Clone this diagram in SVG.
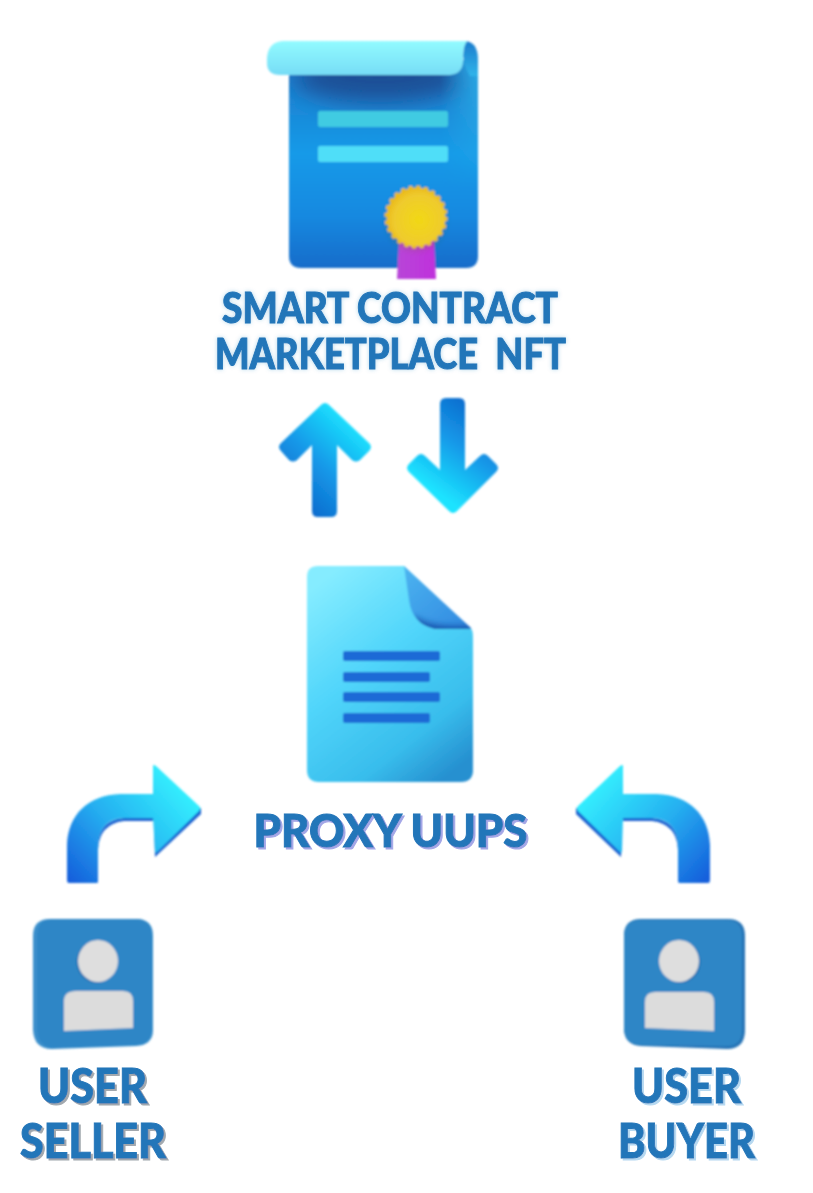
<svg xmlns="http://www.w3.org/2000/svg" width="813" height="1193" viewBox="0 0 813 1193">
<style>
.t{font-family:"Lato","Liberation Sans",sans-serif;font-weight:900;fill:#2476b9;stroke:#2476b9;stroke-width:1;white-space:pre}
.icon{filter:url(#soft)}
.head{fill:#dedede}
.body{fill:#dcdcdc}
</style>
<defs>
<filter id="soft" x="-5%" y="-5%" width="110%" height="110%"><feGaussianBlur stdDeviation="0.9"/></filter>
<filter id="blur4" x="-30%" y="-80%" width="160%" height="260%"><feGaussianBlur stdDeviation="11"/></filter>
<filter id="blur2" x="-30%" y="-80%" width="160%" height="260%"><feGaussianBlur stdDeviation="3"/></filter>
<filter id="glow" x="-5%" y="-20%" width="110%" height="140%"><feDropShadow dx="0" dy="0" stdDeviation="2" flood-color="#2476b9" flood-opacity=".3"/></filter>
<filter id="sPurple" x="-5%" y="-20%" width="110%" height="140%"><feDropShadow dx="2" dy="2" stdDeviation=".4" flood-color="#a3a6e6"/></filter>
<filter id="sGrey" x="-5%" y="-20%" width="110%" height="140%"><feDropShadow dx="2" dy="2" stdDeviation=".4" flood-color="#a2a8ae"/></filter>
<filter id="sLight" x="-5%" y="-20%" width="110%" height="140%"><feDropShadow dx="2" dy="2" stdDeviation=".4" flood-color="#b5d8f0"/></filter>
<clipPath id="bodyClip"><path d="M289 60H478V256Q478 268 466 268H301Q289 268 289 256Z"/></clipPath>
<clipPath id="docClip"><path d="M404 566L471 628Q472 629 468 629H435Q412 624 409 600Z"/></clipPath>
<linearGradient id="body" x1="0" y1="0" x2="0" y2="1"><stop offset="0" stop-color="#1f78c8"/><stop offset=".45" stop-color="#169ae8"/><stop offset=".75" stop-color="#1689e0"/><stop offset="1" stop-color="#146cca"/></linearGradient>
<linearGradient id="edge" gradientUnits="userSpaceOnUse" x1="440" y1="60" x2="478" y2="60"><stop offset="0" stop-color="#2fb5ea" stop-opacity="0"/><stop offset="1" stop-color="#30b4ea"/></linearGradient>
<linearGradient id="edgeMask" x1="0" y1="0" x2="0" y2="1"><stop offset="0" stop-color="#fff"/><stop offset="1" stop-color="#000"/></linearGradient>
<mask id="edgeFade" maskUnits="userSpaceOnUse" x="430" y="40" width="50" height="150"><rect x="430" y="40" width="50" height="150" fill="url(#edgeMask)"/></mask>
<linearGradient id="roll" x1="0" y1="0" x2="0" y2="1"><stop offset="0" stop-color="#92fbff"/><stop offset="1" stop-color="#76dcf6"/></linearGradient>
<linearGradient id="rollEnd" x1="0" y1="0" x2="0" y2="1"><stop offset="0" stop-color="#1c7ccd"/><stop offset="1" stop-color="#30b4ea"/></linearGradient>
<radialGradient id="seal" cx=".55" cy=".55" r=".6"><stop offset="0" stop-color="#f2d815"/><stop offset=".7" stop-color="#efcb2e"/><stop offset="1" stop-color="#e8b414"/></radialGradient>
<linearGradient id="rib" x1="0" y1="0" x2="1" y2="0"><stop offset="0" stop-color="#b746d8"/><stop offset="1" stop-color="#c030dc"/></linearGradient>
<linearGradient id="doc" x1=".2" y1="0" x2=".8" y2="1"><stop offset="0" stop-color="#85ecff"/><stop offset=".4" stop-color="#52d6fb"/><stop offset=".78" stop-color="#38bdec"/><stop offset="1" stop-color="#2690d0"/></linearGradient>
<linearGradient id="fold" x1="0" y1="0" x2="1" y2="1"><stop offset="0" stop-color="#4cb4f0"/><stop offset="1" stop-color="#3088e0"/></linearGradient>
<linearGradient id="up" gradientUnits="userSpaceOnUse" x1="372" y1="440" x2="300" y2="517"><stop offset="0" stop-color="#1ce3ff"/><stop offset=".5" stop-color="#1398e8"/><stop offset="1" stop-color="#0f62c8"/></linearGradient>
<linearGradient id="down" gradientUnits="userSpaceOnUse" x1="420" y1="480" x2="480" y2="398"><stop offset="0" stop-color="#1ce3ff"/><stop offset=".5" stop-color="#1398e8"/><stop offset="1" stop-color="#0f62c8"/></linearGradient>
<linearGradient id="bendL" gradientUnits="userSpaceOnUse" x1="185" y1="785" x2="75" y2="885"><stop offset="0" stop-color="#34f2ff"/><stop offset=".55" stop-color="#25aef0"/><stop offset="1" stop-color="#1560dc"/></linearGradient>
<linearGradient id="bendR" gradientUnits="userSpaceOnUse" x1="590" y1="785" x2="700" y2="885"><stop offset="0" stop-color="#34f2ff"/><stop offset=".55" stop-color="#25aef0"/><stop offset="1" stop-color="#1560dc"/></linearGradient>
</defs>
<rect width="813" height="1193" fill="#fff"/>
<g id="connectors">
<g id="arrow-up" class="icon"><path fill="url(#up)" d="M321 405Q325 401 329 405L369 443Q373 447 369 451L360 460Q356 463 352 460L337 445V511Q337 517 331 517H318Q312 517 312 511V445L297 460Q293 463 289 460L281 451Q277 447 281 443Z"/></g>
<g id="arrow-down" class="icon"><path fill="url(#down)" d="M449 511Q453 515 457 511L496 472Q500 468 496 464L488 456Q484 452 480 456L465 470V404Q465 398 459 398H446Q440 398 440 404V470L425 456Q421 452 417 456L409 464Q405 468 409 472Z"/></g>
<g id="arrow-seller" class="icon">
<path fill="#1a62d0" d="M71 883H97Q98 883 98 881V850Q99 824 124 821H154L155 857L201 814V808L153 818H124Q99 820 98 845Z"/>
<path fill="url(#bendL)" d="M69 883Q67 883 67 880V845C68 815 88 795 120 794H153V766Q153 764 156 766L199 806Q201 808 199 811L157 852Q155 854 155 851L153 818H124Q98 819 98 848V880Q98 883 95 883Z"/>
</g>
<g id="arrow-buyer" class="icon">
<path fill="#1a62d0" d="M706 883H680Q678 883 678 881V850Q677 824 652 821H622L621 857L576 814V808L622 818H652Q677 820 678 845Z"/>
<path fill="url(#bendR)" d="M708 883Q710 883 710 880V845C709 815 689 795 657 794H623V766Q623 764 620 766L578 806Q576 808 578 811L620 852Q622 854 622 851L623 818H652Q678 819 678 848V880Q678 883 681 883Z"/>
</g>
</g>
<g id="contract">
<g class="icon">
<path fill="url(#body)" d="M289 60H478V256Q478 268 466 268H301Q289 268 289 256Z"/>
<g clip-path="url(#bodyClip)"><ellipse cx="380" cy="78" rx="85" ry="24" fill="#1b4f96" filter="url(#blur4)"/></g>
<path fill="url(#edge)" d="M430 60H478V190H430Z" mask="url(#edgeFade)"/>
<rect x="318" y="111" width="130" height="16" rx="2" fill="#3fcbe2"/>
<rect x="318" y="146" width="130" height="16" rx="2" fill="#50def8"/>
<path fill="url(#rib)" d="M399 240H434L436 279H397Z"/>
<path fill="url(#rollEnd)" d="M464 41Q478 41 478 60V76H470Q464 66 463 56Z"/>
<path fill="url(#roll)" d="M283 41H467Q463 47 463 56V62Q462 74 450 75H280Q267 75 267 63V58Q268 42 283 41Z"/>
<ellipse cx="416" cy="221" rx="29" ry="29" fill="#7a6a20" opacity=".3" filter="url(#blur2)"/>
<circle cx="416" cy="217" r="30" fill="none" stroke="#ebbd1a" stroke-width="3" stroke-dasharray="3.930 3.930"/>
<circle cx="416" cy="217" r="29.500" fill="url(#seal)"/>
</g>
<text class="t" x="390" y="323" text-anchor="middle" font-size="42" textLength="336" lengthAdjust="spacingAndGlyphs" filter="url(#glow)">SMART CONTRACT</text>
<text class="t" x="390.500" y="369" text-anchor="middle" font-size="42" textLength="351" lengthAdjust="spacingAndGlyphs" filter="url(#glow)">MARKETPLACE  NFT</text>
</g>
<g id="proxy">
<g class="icon">
<path fill="url(#doc)" d="M318 566H404L472 630Q473 632 473 640V770Q473 782 461 782H319Q307 782 307 770V577Q307 566 318 566Z"/>
<path fill="url(#fold)" d="M404 566L471 628Q472 629 468 629H435Q412 624 409 600Z"/>
<g clip-path="url(#docClip)"><path d="M412 620Q430 634 472 630" fill="none" stroke="#1850a8" stroke-width="9" filter="url(#blur2)"/></g>
<rect x="343" y="651" width="97" height="10" rx="2" fill="#1b6bd6"/>
<rect x="343" y="672" width="87" height="10" rx="2" fill="#1b6bd6"/>
<rect x="343" y="692" width="97" height="10" rx="2" fill="#1b6bd6"/>
<rect x="343" y="713" width="87" height="10" rx="2" fill="#1b6bd6"/>
</g>
<text class="t" x="390.500" y="847" text-anchor="middle" font-size="45" textLength="274" lengthAdjust="spacingAndGlyphs" filter="url(#sPurple)">PROXY UUPS</text>
</g>
<g id="seller">
<g class="icon">
<path fill="#3a8fcc" d="M50 919H136Q153 919 153 936V1030Q153 1045 136 1046L52 1049Q34 1049 33 1030V936Q33 919 50 919Z"/>
<path fill="#2e86c6" d="M54 919H136Q152 919 152 936V1028Q152 1044 136 1045L56 1048Q38 1048 37 1030V936Q37 919 54 919Z"/>
<ellipse cx="96.500" cy="962" rx="20" ry="21" fill="#1f6aa8" opacity=".7"/>
<ellipse cx="98" cy="961" rx="20" ry="21" class="head"/>
<path class="body" d="M76 991H123Q133 991 133 1001V1028L64 1031V1001Q64 991 76 991Z"/>
</g>
<text class="t" x="92.500" y="1103" text-anchor="middle" font-size="47" textLength="109" lengthAdjust="spacingAndGlyphs" filter="url(#sGrey)">USER</text>
<text class="t" x="93" y="1158" text-anchor="middle" font-size="47" textLength="146" lengthAdjust="spacingAndGlyphs" filter="url(#sGrey)">SELLER</text>
</g>
<g id="buyer">
<g class="icon">
<path fill="#2673b6" d="M641 919H728Q745 919 745 936V1030Q745 1049 727 1049L641 1046Q624 1045 624 1028V936Q624 919 641 919Z"/>
<path fill="#2e86c6" d="M641 920H726Q742 920 742 936V1030Q742 1046 726 1046L641 1045Q624 1044 624 1028V936Q624 920 641 920Z"/>
<ellipse cx="680.500" cy="962" rx="20" ry="21" fill="#1f6aa8" opacity=".7"/>
<ellipse cx="679" cy="961" rx="20" ry="21" class="head"/>
<path class="body" d="M655 992H704Q714 992 714 1002V1031L645 1028V1002Q645 992 655 992Z"/>
</g>
<text class="t" x="686.500" y="1103" text-anchor="middle" font-size="47" textLength="109" lengthAdjust="spacingAndGlyphs" filter="url(#sLight)">USER</text>
<text class="t" x="686.500" y="1158" text-anchor="middle" font-size="47" textLength="137" lengthAdjust="spacingAndGlyphs" filter="url(#sLight)">BUYER</text>
</g>
</svg>
